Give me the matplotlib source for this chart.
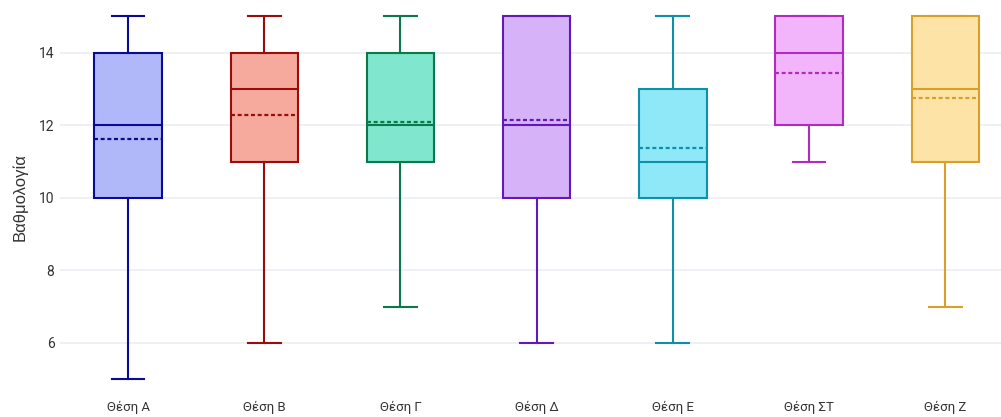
import matplotlib
matplotlib.use("Agg")
import matplotlib.pyplot as plt

# Data
positions = ["Θέση Α", "Θέση Β", "Θέση Γ", "Θέση Δ", "Θέση Ε", "Θέση ΣΤ", "Θέση Ζ"]
mins = [5, 6, 7, 6, 6, 11, 7]
q1s = [10, 11, 11, 10, 10, 12, 11]
medians = [12, 13, 12, 12, 11, 14, 13]
q3s = [14, 14, 14, 15, 13, 15, 15]
maxs = [15, 15, 15, 15, 15, 15, 15]
means = [11.61, 12.29, 12.09, 12.13, 11.36, 13.43, 12.74]

edge_colors = ["#0a0a96", "#9b0c0c", "#0b7a4a", "#6318b8", "#0e90aa", "#b02cc0", "#d6a02a"]
fill_colors = ["#b1b8f9", "#f6aa9d", "#80e6cd", "#d6b2f9", "#8ee8f7", "#f2b5fb", "#fde4a6"]

plt.rcParams['font.family'] = ['Roboto', 'DejaVu Sans']

stats = []
for i in range(len(positions)):
    stats.append({"label": positions[i], "whislo": mins[i], "q1": q1s[i], "med": medians[i],
                  "q3": q3s[i], "whishi": maxs[i], "mean": means[i], "fliers": []})

fig = plt.figure(figsize=(10.01, 4.17), dpi=100)
ax = fig.add_axes([60 / 1001, 1 - 395 / 417, 1 - 60 / 1001, 395 / 417])

bp = ax.bxp(stats, positions=range(len(positions)), widths=0.495, patch_artist=True,
            showmeans=True, meanline=True, capwidths=0.24)

for i in range(len(positions)):
    ec = edge_colors[i]
    bp["boxes"][i].set_facecolor(fill_colors[i])
    bp["boxes"][i].set_edgecolor(ec)
    bp["boxes"][i].set_linewidth(1.5)
    bp["medians"][i].set_color(ec)
    bp["medians"][i].set_linewidth(1.5)
    bp["means"][i].set_color(ec)
    bp["means"][i].set_linewidth(1.6)
    bp["means"][i].set_linestyle((0, (1.8, 1.2)))
    for w in bp["whiskers"][2 * i:2 * i + 2]:
        w.set_color(ec)
        w.set_linewidth(1.5)
    for c in bp["caps"][2 * i:2 * i + 2]:
        c.set_color(ec)
        c.set_linewidth(1.5)

ax.set_xlim(-0.5, (1001 - 128) / 136.2)
ax.set_ylim(4.567, 15.45)
ax.set_yticks([6, 8, 10, 12, 14])
ax.yaxis.grid(True, color="#ebeef3", linewidth=1.2)
ax.set_axisbelow(True)
for s in ax.spines.values():
    s.set_visible(False)
ax.tick_params(axis="both", length=0, colors="#333333", labelsize=9.5)
ax.tick_params(axis="x", pad=4)
ax.tick_params(axis="y", pad=4, labelsize=10)
ax.set_ylabel("Βαθμολογία", fontsize=12, color="#333333", family="Liberation Sans", labelpad=8)

fig.savefig("out.png", dpi=100)
